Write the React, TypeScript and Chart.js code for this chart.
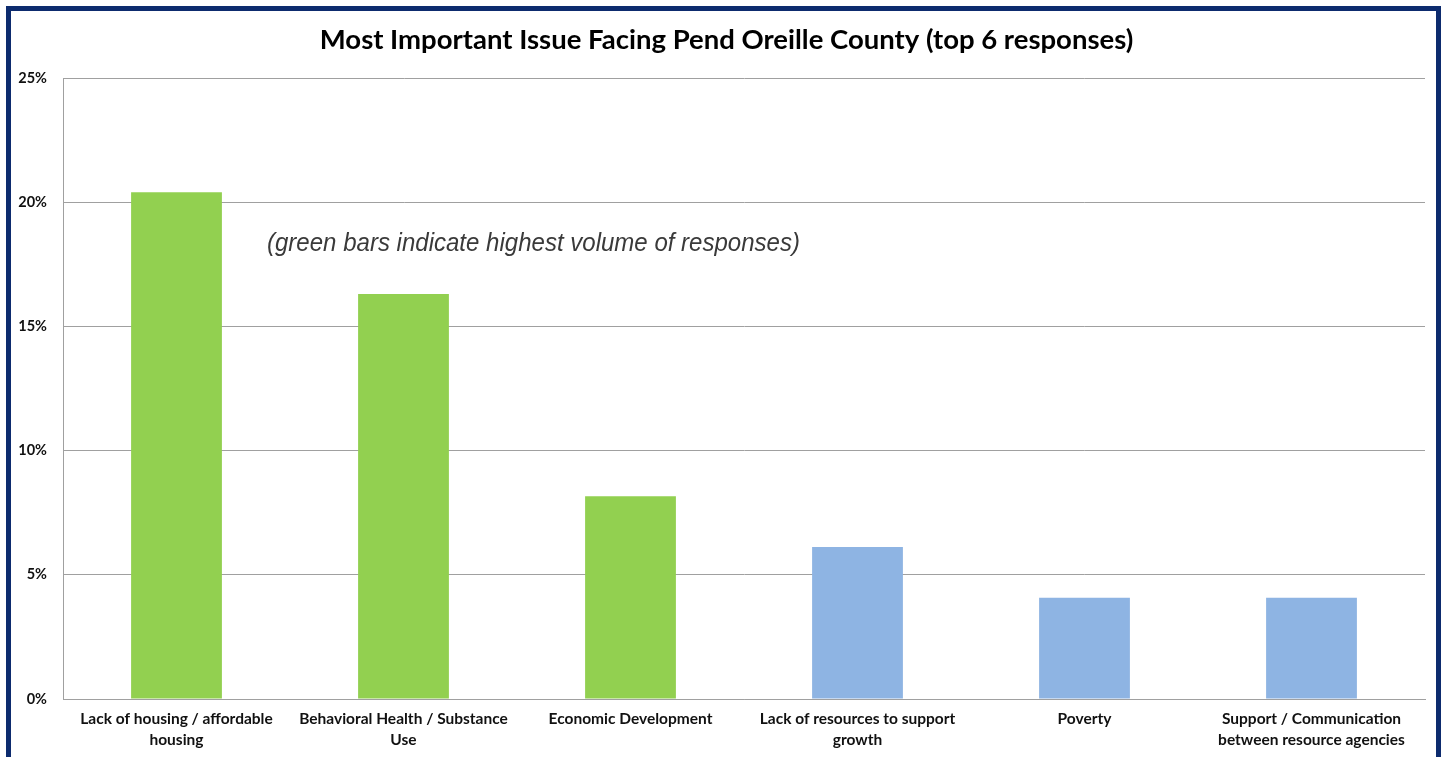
import React, { useEffect, useRef } from "react";
import { Chart, registerables } from "chart.js";

Chart.register(...registerables);

const title = "Most Important Issue Facing Pend Oreille County (top 6 responses)";
const note = "(green bars indicate highest volume of responses)";
const categories: (string | string[])[] = [
  ["Lack of housing / affordable", "housing"],
  ["Behavioral Health / Substance", "Use"],
  "Economic Development",
  ["Lack of resources to support", "growth"],
  "Poverty",
  ["Support / Communication", "between resource agencies"],
];
const values = [20.4, 16.3, 8.16, 6.12, 4.08, 4.08];
const highVolume = [true, true, true, false, false, false];
const yTicks = [0, 5, 10, 15, 20, 25];

const GREEN = "#92D050";
const BLUE = "#8EB4E3";
const GRID = "#A0A0A0";
const FONT = "Lato, 'Open Sans', sans-serif";

export default function App() {
  const ref = useRef<HTMLCanvasElement | null>(null);

  useEffect(() => {
    document.body.style.margin = "0";
    document.body.style.overflow = "hidden";
    const canvas = ref.current!;
    const textPlugin = {
      id: "texts",
      afterDraw(chart: any) {
        const ctx = chart.ctx;
        ctx.save();
        ctx.fillStyle = "#000";
        ctx.font = `bold 27.5px ${FONT}`;
        ctx.textAlign = "center";
        ctx.textBaseline = "middle";
        ctx.fillText(title, 726.5, 40);
        ctx.restore();

        ctx.save();
        ctx.fillStyle = "#3a3a3a";
        ctx.font = "italic 26px 'Liberation Sans Narrow', 'Liberation Sans', Arial, sans-serif";
        ctx.textAlign = "left";
        ctx.textBaseline = "middle";
        const w = ctx.measureText(note).width;
        const target = 533;
        ctx.translate(267, 244);
        ctx.scale(target / w, 1);
        ctx.fillText(note, 0, 0);
        ctx.restore();
      },
    };
    const chart = new Chart(canvas, {
      type: "bar",
      data: {
        labels: categories,
        datasets: [
          {
            data: values,
            backgroundColor: highVolume.map((h) => (h ? GREEN : BLUE)),
            borderWidth: 0,
            categoryPercentage: 1,
            barPercentage: 0.4,
          },
        ],
      },
      options: {
        responsive: false,
        animation: false,
        devicePixelRatio: 1,
        layout: { padding: { top: 78, right: 22, left: 0, bottom: 0 } },
        plugins: {
          legend: { display: false },
          title: { display: false },
          tooltip: { enabled: false },
        },
        scales: {
          x: {
            grid: { display: false, drawTicks: false },
            border: { display: true, color: GRID, width: 1 },
            ticks: {
              color: "#111",
              font: { family: FONT, weight: "bold", size: 15.5, lineHeight: 1.35 },
              padding: 10,
              maxRotation: 0,
              autoSkip: false,
            },
            afterFit(scale: any) {
              scale.height = 58;
            },
          },
          y: {
            min: 0,
            max: 25,
            afterBuildTicks(scale: any) {
              scale.ticks = yTicks.map((v) => ({ value: v }));
            },
            grid: { color: GRID, lineWidth: 1, drawTicks: false },
            border: { display: true, color: GRID, width: 1 },
            ticks: {
              color: "#111",
              font: { family: FONT, weight: "bold", size: 14.5 },
              padding: 16,
              callback: (v: any) => `${v}%`,
            },
            afterFit(scale: any) {
              scale.width = 63;
            },
          },
        },
      },
      plugins: [textPlugin],
    } as any);
    return () => chart.destroy();
  }, []);

  return (
    <div style={{ position: "relative", width: 1447, height: 757, background: "#fff", overflow: "hidden" }}>
      <canvas ref={ref} width={1447} height={757} style={{ position: "absolute", left: 0, top: 0, width: 1447, height: 757 }} />
      <div
        style={{
          position: "absolute",
          left: 6,
          top: 6,
          width: 1425,
          height: 800,
          border: "5px solid #0D2B6E",
          pointerEvents: "none",
        }}
      />
    </div>
  );
}
